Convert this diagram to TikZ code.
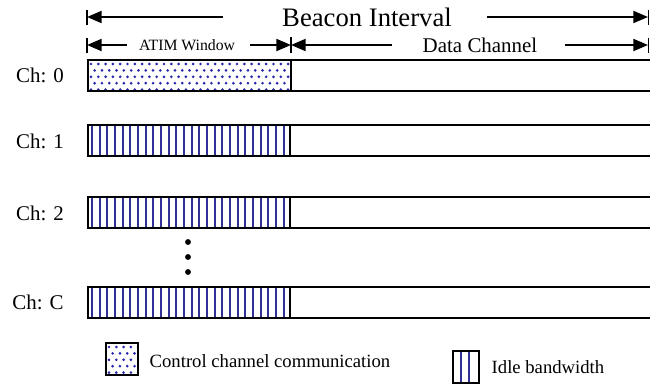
\documentclass[tikz,border=0pt]{standalone}
\usepackage{fontspec}
\setmainfont{Liberation Serif}
\usetikzlibrary{arrows.meta}
\definecolor{idleblue}{RGB}{48,48,150}
\definecolor{ctrlblue}{RGB}{40,40,175}
\def\idlestripes(#1:#2:#3:#4){\foreach \k in {0,...,#4} \draw[idleline] ({#1+7.67*\k},#2) -- ({#1+7.67*\k},#3);}
\def\ctrldots(#1,#2)(#3,#4){\begin{scope}\clip (#1,#2) rectangle (#3,#4);
	\foreach \j in {0,...,6} \foreach \i in {0,...,30} \fill[ctrlblue] ({#1+3+7.3*\i+3.65*mod(\j,2)},{#2+4+6.4*\j}) circle (1.1pt);
	\end{scope}}

\begin{document}
\begin{tikzpicture}[x=0.75pt, y=-0.75pt,
		dimarrow/.style={line width=1.5pt, -{Triangle[length=11pt,width=9pt]}},
		dimtick/.style={line width=1pt},
		chbar/.style={line width=1.6pt},
		idleline/.style={idleblue, line width=1.4pt},
		chlabel/.style={font=\fontsize{15.7}{18}\selectfont},
		legtext/.style={font=\fontsize{14}{16}\selectfont, anchor=west}]
		%%%%% START %%%%%
		\useasboundingbox (0,0) rectangle (650,385);
		\clip (0,0) rectangle (650,385);
		
		% beacon interval
		\node[font=\fontsize{20}{22}\selectfont] (beacon) at (367,17) {Beacon Interval};
		\coordinate (bi-l) at (87,17);
		\coordinate (bi-la) at (223,17);
		\coordinate (bi-ra) at (487,17);
		\coordinate (bi-r) at (648,17);
		\draw[dimarrow] (bi-la) -- (bi-l);
		\draw[dimarrow] (bi-ra) -- (bi-r);
		\draw[dimtick] (87,10) -- (87,25);
		\draw[dimtick] (648.5,10) -- (648.5,25);
		
		% atim window / data channel
		\node[font=\fontsize{11.8}{14}\selectfont] (atim) at (187,45) {ATIM Window};
		\node[chlabel] (data) at (480,45) {Data Channel};
		\coordinate (aw-l) at (87,45);
		\coordinate (aw-la) at (127,45);
		\coordinate (aw-ra) at (250,45);
		\coordinate (aw-r) at (291,45);
		\coordinate (dc-la) at (392,45);
		\coordinate (dc-ra) at (565,45);
		\coordinate (dc-r) at (648,45);
		\draw[dimarrow] (aw-la) -- (aw-l);
		\draw[dimarrow] (aw-ra) -- (aw-r);
		\draw[dimarrow] (dc-la) -- (aw-r);
		\draw[dimarrow] (dc-ra) -- (dc-r);
		\draw[dimtick] (87,38) -- (87,53);
		\draw[dimtick] (291,37) -- (291,53);
		\draw[dimtick] (648.5,38) -- (648.5,53);
		
		% channels
		\node[chlabel] (ch0) at (40,75) {Ch: 0};
		\ctrldots(88,60)(291,91)
		\draw[chbar] (88,60) rectangle (655,91);
		\draw[chbar] (291,60) -- (291,91);
		
		\node[chlabel] (ch1) at (40,141) {Ch: 1};
		\idlestripes(92:125:156:25)
		\draw[chbar] (88,125) rectangle (655,156);
		\draw[chbar] (290,125) -- (290,156);
		
		\node[chlabel] (ch2) at (40,213) {Ch: 2};
		\idlestripes(92:197:228:25)
		\draw[chbar] (88,197) rectangle (655,228);
		\draw[chbar] (290,197) -- (290,228);
		
		\fill (188,242) circle (2.2pt);
		\fill (188,257) circle (2.2pt);
		\fill (188,272) circle (2.2pt);
		
		\node[chlabel] (chc) at (38,302) {Ch: C};
		\idlestripes(92:287:318:25)
		\draw[chbar] (88,287) rectangle (655,318);
		\draw[chbar] (290,287) -- (290,318);
		
		% legend
		\ctrldots(106,343)(138,375)
		\draw[chbar] (106,343) rectangle (138,375);
		\node[legtext] (ctrl) at (145,361) {Control channel communication};
		
		\idlestripes(461:351:383:1)
		\draw[chbar] (453,351) rectangle (479,383);
		\node[legtext] (idle) at (487,367) {Idle bandwidth};
		
		%%%%% END %%%%%
	\end{tikzpicture}
\end{document}
